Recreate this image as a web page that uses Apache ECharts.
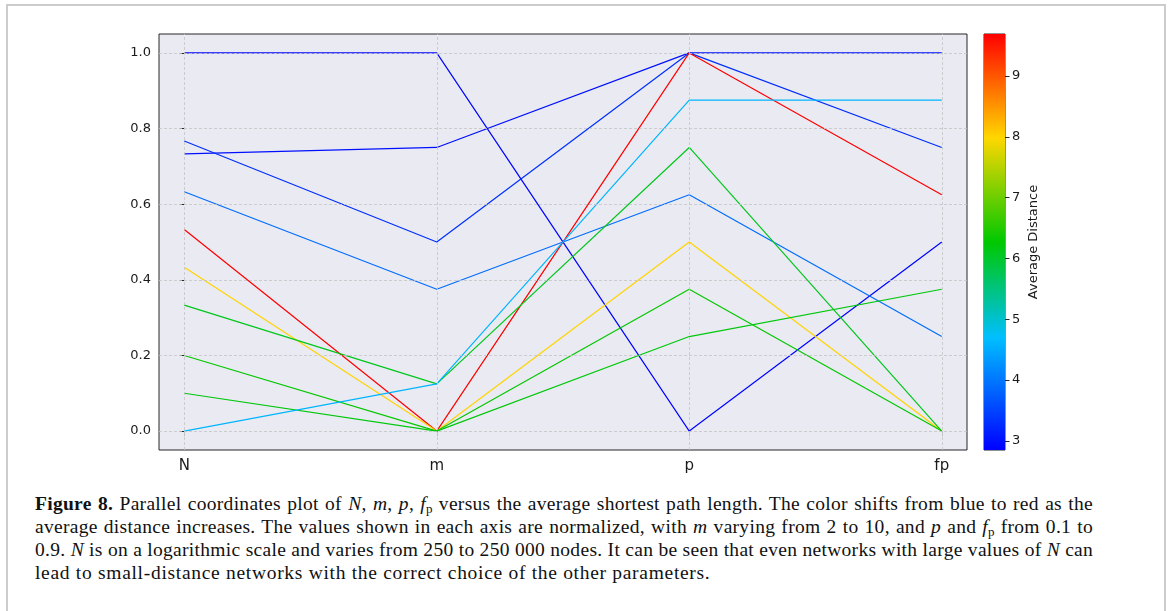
<!DOCTYPE html>
<html>
<head>
<meta charset="utf-8">
<script src="https://cdn.jsdelivr.net/npm/echarts@6.0.0/dist/echarts.min.js"></script>
<style>
  html, body { margin: 0; padding: 0; background: #ffffff; width: 1170px; height: 611px; overflow: hidden; }
  #frame { position: absolute; left: 6px; top: 4px; width: 1156px; height: 620px;
           border-top: 2px solid #cccccc; border-left: 2px solid #cccccc; border-right: 2px solid #cccccc; }
  #chart { position: absolute; left: 0; top: 0; width: 1170px; height: 490px; }
  #caption { position: absolute; left: 35px; top: 492px; width: 1058px;
             font-family: "Liberation Serif", "DejaVu Serif", serif; font-size: 19.5px; line-height: 23px;
             color: #111111; letter-spacing: 0.3px; }
  #caption .l { white-space: nowrap; text-align: justify; text-align-last: justify; }
  #caption .last { text-align-last: left; letter-spacing: 0.7px; }
  #caption sub { font-size: 13px; vertical-align: -3px; line-height: 0; letter-spacing: 0; }
</style>
</head>
<body>
<div id="frame"></div>
<div id="chart"></div>
<div id="caption">
  <div class="l"><b>Figure 8.</b> Parallel coordinates plot of <i>N</i>, <i>m</i>, <i>p</i>, <i>f</i><sub>p</sub> versus the average shortest path length. The color shifts from blue to red as the</div>
  <div class="l">average distance increases. The values shown in each axis are normalized, with <i>m</i> varying from 2 to 10, and <i>p</i> and <i>f</i><sub>p</sub> from 0.1 to</div>
  <div class="l">0.9. <i>N</i> is on a logarithmic scale and varies from 250 to 250 000 nodes. It can be seen that even networks with large values of <i>N</i> can</div>
  <div class="l last">lead to small-distance networks with the correct choice of the other parameters.</div>
</div>
<script>
// ---- data ----
const axisNames = ['N', 'm', 'p', 'fp'];
const valuesN  = [1.0,   0.733, 0.767, 0.633, 0.533, 0.433, 0.333, 0.2,   0.1,   0.0];
const valuesM  = [1.0,   0.75,  0.5,   0.375, 0.0,   0.0,   0.125, 0.0,   0.0,   0.125];
const valuesP  = [0.0,   1.0,   1.0,   0.625, 1.0,   0.5,   0.75,  0.375, 0.25,  0.875];
const valuesFp = [0.5,   1.0,   0.75,  0.25,  0.625, 0.0,   0.0,   0.0,   0.375, 0.875];
const avgDistance = [2.9, 3.0,  3.3,   3.9,   9.69,  8.0,   6.1,   6.3,   6.2,   4.6];
const yTicks = [0.0, 0.2, 0.4, 0.6, 0.8, 1.0];
const cbTicks = [3, 4, 5, 6, 7, 8, 9];
const cbRange = [2.85, 9.69];

// ---- colormap ----
const cmapStops = [
  [0.00, '#0000ff'],
  [0.27, '#00bfff'],
  [0.50, '#00c800'],
  [0.75, '#ffd700'],
  [1.00, '#ff0000']
];
function hexToRgb(h) { return [parseInt(h.substr(1,2),16), parseInt(h.substr(3,2),16), parseInt(h.substr(5,2),16)]; }
function cmap(v) {
  let t = (v - cbRange[0]) / (cbRange[1] - cbRange[0]);
  t = Math.max(0, Math.min(1, t));
  for (let i = 0; i < cmapStops.length - 1; i++) {
    const a = cmapStops[i], b = cmapStops[i + 1];
    if (t <= b[0]) {
      const f = (t - a[0]) / (b[0] - a[0]);
      const ca = hexToRgb(a[1]), cb = hexToRgb(b[1]);
      const c = ca.map((x, k) => Math.round(x + (cb[k] - x) * f));
      return 'rgb(' + c.join(',') + ')';
    }
  }
  return cmapStops[cmapStops.length - 1][1];
}

const chart = echarts.init(document.getElementById('chart'), null, { renderer: 'canvas' });
const textColor = '#1a1a1a';
const frameColor = '#262626';
const gridDash = { color: '#c4c4c4', width: 0.8, type: [3, 2] };

const series = [];
// grid lines (drawn beneath data)
series.push({
  type: 'line', xAxisIndex: 0, yAxisIndex: 0, z: 1, silent: true,
  data: [[0, 0]], symbolSize: 0, showSymbol: false, lineStyle: { opacity: 0 },
  markLine: {
    silent: true, symbol: 'none', label: { show: false }, animation: false,
    lineStyle: gridDash,
    data: axisNames.map((n, i) => ({ xAxis: i })).concat(yTicks.map(v => ({ yAxis: v })))
  }
});
for (let i = 0; i < valuesN.length; i++) {
  series.push({
    type: 'line', xAxisIndex: 0, yAxisIndex: 0, z: 3,
    data: [[0, valuesN[i]], [1, valuesM[i]], [2, valuesP[i]], [3, valuesFp[i]]],
    showSymbol: false, symbol: 'none',
    lineStyle: { color: cmap(avgDistance[i]), width: 1.2 },
    silent: true
  });
}
// colorbar
series.push({
  type: 'bar', xAxisIndex: 1, yAxisIndex: 1, stack: 'cb', barWidth: '100%', silent: true,
  data: [cbRange[0]], itemStyle: { color: 'rgba(0,0,0,0)' }
});
series.push({
  type: 'bar', xAxisIndex: 1, yAxisIndex: 1, stack: 'cb', barWidth: '100%', silent: true,
  data: [cbRange[1] - cbRange[0]],
  itemStyle: {
    color: new echarts.graphic.LinearGradient(0, 1, 0, 0,
      cmapStops.map(s => ({ offset: s[0], color: s[1] })))
  }
});

chart.setOption({
  animation: false,
  backgroundColor: 'transparent',
  textStyle: { fontFamily: 'DejaVu Sans' },
  grid: [
    { left: 159, top: 34, width: 808, height: 416, show: true, backgroundColor: '#eaeaf2',
      borderColor: frameColor, borderWidth: 1, z: 0 },
    { left: 984, top: 34, width: 21, height: 416, show: true, backgroundColor: 'transparent',
      borderColor: frameColor, borderWidth: 1 }
  ],
  xAxis: [
    { type: 'value', gridIndex: 0, min: -0.1, max: 3.1,
      axisLine: { show: false }, splitLine: { show: false },
      axisTick: { show: true, customValues: axisNames.map((n, i) => i), length: 5,
                  lineStyle: { color: '#b8b8b8', width: 1 } },
      axisLabel: { show: true, customValues: axisNames.map((n, i) => i), margin: 9,
                   fontSize: 15, color: textColor, fontFamily: 'DejaVu Sans',
                   formatter: v => axisNames[Math.round(v)] } },
    { type: 'category', gridIndex: 1, data: ['cb'], show: false }
  ],
  yAxis: [
    { type: 'value', gridIndex: 0, min: -0.05, max: 1.05,
      axisLine: { show: false }, splitLine: { show: false },
      axisTick: { show: true, customValues: yTicks, length: 4.5, lineStyle: { color: frameColor, width: 1 } },
      axisLabel: { show: true, customValues: yTicks, margin: 8, fontSize: 13, color: textColor,
                   fontFamily: 'DejaVu Sans', formatter: v => v.toFixed(1) } },
    { type: 'value', gridIndex: 1, position: 'right', min: cbRange[0], max: cbRange[1],
      axisLine: { show: false }, splitLine: { show: false },
      axisTick: { show: true, customValues: cbTicks, length: 4.5, lineStyle: { color: frameColor, width: 1 } },
      axisLabel: { show: true, customValues: cbTicks, margin: 7, fontSize: 13, color: textColor,
                   fontFamily: 'DejaVu Sans' },
      name: 'Average Distance', nameLocation: 'middle', nameRotate: 90, nameGap: 22,
      nameTextStyle: { fontSize: 13, color: textColor, fontFamily: 'DejaVu Sans' } }
  ],
  series: series
});
</script>
</body>
</html>
